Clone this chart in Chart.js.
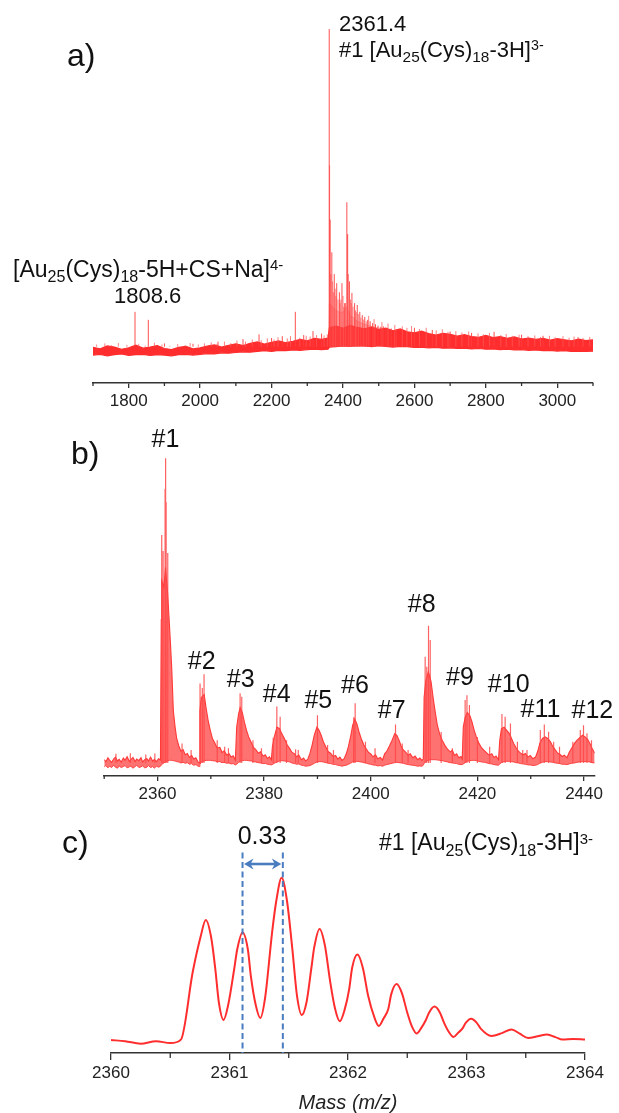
<!DOCTYPE html>
<html><head><meta charset="utf-8">
<script src="https://cdn.jsdelivr.net/npm/chart.js@4.4.1/dist/chart.umd.min.js"></script>
<style>
html,body{margin:0;padding:0;background:#fff;}
#wrap{position:relative;width:619px;height:1113px;overflow:hidden;font-family:"Liberation Sans",Arial,Helvetica,sans-serif;color:#111;background:#fff;}
#wrap canvas{position:absolute;left:0;}
.t{position:absolute;white-space:nowrap;line-height:1;z-index:5;}
.t sub,.t sup{position:relative;line-height:0;vertical-align:baseline;}
.t sub{font-size:70%;top:0.34em;}
.t sup{font-size:65%;top:-0.45em;}
</style></head>
<body><div id="wrap">
<canvas id="ca" width="619" height="420" style="top:0px;width:619px;height:420px"></canvas>
<canvas id="cb" width="619" height="410" style="top:420px;width:619px;height:410px"></canvas>
<canvas id="cc" width="619" height="293" style="top:820px;width:619px;height:293px"></canvas>
</div>
<script>
// ---------- Panel a data ----------
const aTicks = [1800, 2000, 2200, 2400, 2600, 2800, 3000];
const aMinor = [1700, 1900, 2100, 2300, 2500, 2700, 2900, 3100];
const aBandX = [1700,1720,1740,1760,1780,1800,1820,1840,1860,1880,1900,1920,1940,1960,1980,2000,2020,2040,2060,2080,2100,2120,2140,2160,2180,2200,2220,2240,2260,2280,2300,2320,2340,2358,2362,2380,2400,2420,2440,2460,2480,2500,2520,2540,2560,2580,2600,2620,2640,2660,2680,2700,2720,2740,2760,2780,2800,2820,2840,2860,2880,2900,2920,2940,2960,2980,3000,3020,3040,3060,3080,3100];
const aBandHi = [9.8,9.4,10.2,9.9,9.3,9.7,10.4,9.6,9.9,10.3,9.5,9.2,9.8,10.1,9.4,9.7,10.2,10.5,9.9,10.4,10.8,10.3,10.9,11.3,10.7,11.2,11.6,11.1,11.5,12.0,11.6,12.3,12.0,
 12.4,15.2,
 15.7,15.1,15.9,15.3,14.9,15.4,14.7,15.1,14.4,14.9,14.1,13.8,14.3,13.6,13.2,13.7,13.4,12.9,13.3,12.8,12.6,13.1,12.5,12.8,12.3,12.7,12.1,12.4,12.0,12.3,11.8,12.2,11.9,11.6,12.1,11.7,11.9];
const aBandLo = [7.7,7.9,7.5,7.8,8.0,7.6,7.8,7.9,7.6,7.8,7.7,7.5,7.8,7.9,7.7,7.9,8.1,8.0,8.3,8.2,8.4,8.6,8.5,8.7,8.9,8.7,9.0,8.9,9.1,9.0,9.2,9.3,9.2,
 9.3,9.9,
 10.0,10.2,10.1,10.3,10.2,10.0,10.3,10.1,9.9,10.1,10.0,9.8,9.9,9.7,9.8,9.6,9.7,9.5,9.6,9.4,9.5,9.3,9.4,9.2,9.3,9.1,9.2,9.0,9.1,8.9,9.0,8.8,8.9,8.7,8.8,8.7,8.8];
const aHaloX = [2360, 2362, 2370, 2380, 2390, 2400, 2410, 2420, 2430, 2440, 2460, 2480, 2500, 2530, 2560];
const aHaloHi = [12.2, 22, 21, 20, 19.5, 19.5, 21, 18.5, 18, 17, 16.2, 15.6, 15.2, 14.6, 14.0];
const aStickMz = [1817.6,1854.9,1900,1980,2050,2120,2164.9,2200,2230,2266.5,2290,2316,2340,2361.4,2364,2368.7,2375.5,2382.4,2389.9,2397.1,2404.6,2410.8,2413,2418,2425,2432.5,2439.9,2447,2454,2461,2469,2476,2483,2491,2498,2506,2513,2520,2535,2550,2600,2650,2700,2760,2823,2900,2960,3058];
const aStickTop = [19.6,17.4,10.9,10.8,11.4,12.1,13.4,12.4,12.9,19.6,13.2,14.3,13.6,97.5,45,36,30,27.5,25,27.5,22,49.8,41,28,24.8,22,21.5,19.6,18.7,18.2,17.4,17.0,16.5,16.2,15.8,15.5,15.6,15.2,15.0,14.8,15.2,14.6,14.2,13.8,14.1,13.3,13.0,12.6];
const aHairMz = [1710,1733,1752,1771,1795,1828,1846,1872,1893,1915,1937,1958,1972,1995,2012,2031,2047,2068,2086,2103,2127,2146,2171,2188,2207,2218,2244,2253,2279,2297,2308,2326,2347,2356,
 2362.5,2366,2371,2373,2378,2380,2386,2392,2394,2400,2402,2407,2415,2421,2423,2428,2435,2437,2443,2450,2458,2465,
 2472,2487,2509,2526,2545,2566,2579,2592,2614,2633,2661,2678,2694,2716,2733,2752,2778,2793,2810,2842,2857,2874,2893,2918,2937,2953,2978,2994,3016,3033,3047,3072,3091];
const aHairTop = [10.6,10.9,10.4,11.0,10.5,10.8,10.3,11.1,10.6,10.2,10.7,10.4,11.0,10.6,10.9,11.2,10.8,11.4,11.0,11.7,11.4,12.0,11.8,12.3,12.0,12.6,12.3,12.9,12.5,13.0,12.8,13.2,13.1,13.4,
 60,30,28,25,26,24,23,22,23,24,21,22,30,23,22,21,20,19.5,19,18,17.5,17,
 18.5,17.6,16.8,16.4,16.0,15.6,15.2,15.7,14.9,15.2,14.5,14.8,14.1,14.3,13.9,14.2,13.7,13.4,13.8,13.2,13.5,13.0,13.3,12.9,13.1,12.7,13.0,12.6,12.9,12.5,12.8,12.4,12.7];
const aStickBase = 10;

// ---------- Panel b data ----------
const bTicks = [2360, 2380, 2400, 2420, 2440];
const bMinor = [2350, 2370, 2390, 2410, 2430];
const bX = [
 2350.0,2350.3,2350.7,2351.0,2351.4,2351.8,2352.1,2352.5,2352.8,2353.2,2353.6,2353.9,2354.3,2354.7,2355.0,2355.4,2355.8,2356.1,2356.5,2356.9,2357.2,2357.6,2358.0,2358.3,2358.7,2359.1,2359.4,2359.8,2360.2,2360.55,
 2360.7,2360.8,2361.2,2361.5,2361.9,2362.25,2362.45,2362.67,2362.97,2363.3,2363.6,2364.0,2364.4,2364.8,2365.2,2365.6,2366.0,2366.4,2366.8,2367.2,2367.6,2367.85,
 2367.95,2368.2,2368.75,2369.1,2369.5,2369.9,2370.3,2370.8,2371.2,2371.7,2372.1,2372.5,2373.0,2373.4,2373.8,2374.2,2374.6,
 2374.85,2375.2,2375.5,2375.9,2376.3,2376.7,2377.1,2377.6,2378.0,2378.4,2378.9,2379.3,2379.8,2380.2,2380.6,2381.0,2381.35,
 2381.55,2381.9,2382.4,2382.9,2383.3,2383.8,2384.3,2384.8,2385.2,2385.7,2386.1,2386.5,2387.0,2387.4,2387.8,2388.2,
 2388.6,2389.0,2389.4,2389.9,2390.3,2390.7,2391.1,2391.6,2392.0,2392.5,2392.9,2393.4,2393.8,2394.2,2394.6,2395.0,
 2395.4,2395.8,2396.2,2396.6,2397.0,2397.4,2397.8,2398.2,2398.7,2399.2,2399.6,2400.0,2400.4,2400.9,2401.3,2401.8,2402.2,
 2402.6,2403.0,2403.5,2404.0,2404.5,2404.9,2405.3,2405.7,2406.1,2406.5,2407.0,2407.4,2407.9,2408.3,2408.8,2409.2,2409.6,2409.85,
 2410.0,2410.3,2410.8,2411.3,2411.7,2412.1,2412.5,2412.9,2413.4,2413.9,2414.4,2414.9,2415.3,2415.7,2416.1,2416.5,2416.9,2417.15,
 2417.35,2417.7,2418.1,2418.6,2419.0,2419.4,2419.8,2420.3,2420.8,2421.3,2421.8,2422.2,2422.7,2423.1,2423.5,2423.95,
 2424.2,2424.5,2425.0,2425.5,2426.0,2426.4,2426.8,2427.2,2427.7,2428.1,2428.6,2429.0,2429.5,2429.9,2430.4,2430.9,
 2431.3,2431.7,2432.2,2432.7,2433.2,2433.7,2434.1,2434.6,2435.0,2435.5,2435.9,2436.3,
 2436.8,2437.2,2437.7,2438.2,2438.7,2439.2,2439.7,2440.2,2440.7,2441.1,2441.5,2442.0];
const bHi = [
 5.0,4.4,5.6,4.9,4.2,5.3,5.8,4.6,5.1,4.3,5.5,4.8,5.9,4.5,5.0,5.7,4.4,5.2,4.7,5.6,4.3,5.0,5.4,4.6,5.8,4.5,5.1,4.4,5.3,4.9,
 48,60,58,64,56,46,40,33,20,15,11.5,9.2,7.6,8.1,6.5,6.9,5.7,6.3,5.2,5.6,4.3,4.0,
 20,24,25,21,17,14,11.5,10,8.6,8.8,7.2,7.7,6.4,6.9,5.8,6.2,4.9,
 15,19,21,19.5,16.5,14,12,10.2,8.8,8.2,7.0,7.4,6.1,6.5,5.4,5.9,5.0,
 9,12,15,14.5,13,11.5,9.6,8.4,7.3,6.8,5.9,6.4,5.0,5.5,4.6,5.2,
 7.0,9.5,12.5,15,14,12.5,10.5,8.8,7.5,6.9,6.0,6.3,5.2,5.8,4.8,5.3,
 6.8,9,12,15.5,17.5,16,13.5,11.5,9.5,8.2,7.2,6.8,5.9,6.5,5.3,5.7,4.9,
 6.8,7.6,9.2,11,13,12.5,11,9.2,8,7.4,6.4,6.8,5.6,6.1,5.0,5.5,4.8,5.2,
 24,29,32,29,24,19.5,15.5,13,11,9.4,8.2,7.4,7.9,6.3,6.8,5.6,6.0,5.2,
 15,18,19.5,18.5,16.5,14,12,10,8.6,7.8,7.0,6.4,6.8,5.7,6.1,5.0,
 11,14.5,15,14,13,11.5,10,8.8,7.6,7.0,6.5,6.9,5.8,6.3,5.3,5.8,
 7.5,10,11.5,12,11.5,10.5,9.2,8,7.1,6.6,6.0,6.4,
 5.6,7.2,8.6,10,11,11.8,12.5,12,11.2,10,8.5,7];
const bLo = [
 2.8,3.2,2.5,3.0,2.6,3.3,2.7,2.4,3.1,2.6,2.9,3.2,2.5,2.8,3.0,2.4,2.9,3.3,2.6,2.8,3.1,2.5,2.7,3.2,2.6,2.9,2.4,3.0,2.7,3.0,
 3.4,3.6,4.0,4.4,4.6,4.8,4.8,4.8,4.7,4.6,4.4,4.3,4.0,4.2,3.9,4.1,3.6,3.8,3.3,3.5,3.0,2.9,
 3.5,4.2,4.6,4.8,4.8,4.8,4.7,4.6,4.4,4.4,4.1,4.2,3.9,4.0,3.7,3.8,3.4,
 3.6,4.2,4.5,4.7,4.8,4.8,4.7,4.6,4.4,4.3,4.1,4.0,3.8,3.9,3.6,3.5,3.4,
 3.5,3.9,4.3,4.6,4.7,4.6,4.5,4.3,4.0,3.8,3.6,3.7,3.3,3.2,3.0,3.1,
 3.2,3.5,3.9,4.3,4.4,4.4,4.3,4.1,3.9,3.8,3.6,3.5,3.3,3.2,3.0,3.2,
 3.3,3.6,3.9,4.3,4.5,4.5,4.4,4.3,4.1,3.9,3.7,3.6,3.4,3.3,3.1,3.2,3.0,
 3.3,3.5,3.7,3.9,4.1,4.2,4.1,4.0,3.9,3.7,3.5,3.4,3.3,3.2,3.0,3.1,3.0,3.3,
 3.8,4.4,4.8,5.0,5.0,5.0,4.9,4.8,4.7,4.5,4.3,4.1,4.0,3.9,3.8,3.6,3.5,3.5,
 3.7,4.1,4.5,4.7,4.8,4.8,4.7,4.5,4.3,4.2,4.0,3.8,3.7,3.5,3.4,3.3,
 3.7,4.1,4.4,4.5,4.5,4.4,4.3,4.1,4.0,3.8,3.7,3.6,3.4,3.4,3.2,3.3,
 3.5,3.9,4.2,4.4,4.4,4.3,4.2,4.0,3.9,3.8,3.6,3.6,
 3.5,3.7,3.9,4.0,4.2,4.3,4.4,4.4,4.4,4.3,4.1,4.0];
const bStickMz = [2360.79,2361.05,2361.42,2361.52,2361.62,2361.92,2367.98,2368.4,2368.73,2371.2,2372.6,2375.49,2375.8,2379.5,2381.7,2382.38,2383.0,2386.4,2390.0,2393.0,2396.8,2397.07,2400.8,2404.64,2407.0,2410.2,2410.5,2410.83,2411.15,2415.3,2417.7,2418.04,2418.5,2422.3,2424.6,2425.2,2426.2,2428.5,2431.8,2432.55,2433.35,2435.4,2439.3,2439.9,2440.55,
 2352.2,2354.9,2357.8,2359.5,2364.6,2366.3,2373.3,2377.9,2384.2,2385.9,2391.9,2399.0,2405.9,2413.2,2420.0,2427.5,2429.3,2434.3,2437.9,2441.4];
const bStickTop = [73.9,69,88,97.5,84,68.4,28.4,27,31.2,11,9,25.4,24.3,8.5,11.7,21.3,18.2,8,18.6,8,18,22.3,8.5,15.8,8,36.6,33.5,46.1,41.7,8.5,23.3,24.8,21.8,9,19,18.2,16.1,8,14.1,15.8,13.6,9,14.1,15.6,13.1,
 6.8,7.0,6.6,6.9,10,8,8.5,11,11,8.2,9.5,10.5,10,13.5,12,10.5,8,10.5,10.5,11];
const bStickBase = 4;
const bPeakLabels = ['#1','#2','#3','#4','#5','#6','#7','#8','#9','#10','#11','#12'];

// ---------- Panel c data ----------
const cTicks = [2360, 2361, 2362, 2363, 2364];
const cMinor = [2360.5, 2361.5, 2362.5, 2363.5];
const cMz = [2360.00,2360.12,2360.25,2360.38,2360.50,2360.59,2360.69,2360.755,2360.80,2360.845,
 2360.88,2360.91,2360.95,2360.99,2361.04,2361.065,2361.11,2361.155,2361.18,2361.22,
 2361.26,2361.30,2361.36,2361.395,2361.44,2361.485,2361.53,2361.57,2361.61,2361.65,
 2361.69,2361.715,2361.76,2361.805,2361.85,2361.89,2361.93,2361.97,2362.01,2362.035,
 2362.08,2362.125,2362.17,2362.22,2362.26,2362.30,2362.34,2362.365,2362.41,2362.455,
 2362.50,2362.54,2362.58,2362.62,2362.655,2362.685,2362.73,2362.775,2362.81,2362.85,
 2362.89,2362.93,2362.965,2362.995,2363.04,2363.085,2363.12,2363.21,2363.30,2363.38,
 2363.45,2363.52,2363.60,2363.68,2363.75,2363.81,2363.90,2364.00];
const cInt = [6.4,5.8,4.6,5.8,4.9,6.6,40,57,65.5,57,
 41.5,25,16.3,24,41.5,51,59.4,51,38,24,
 17.2,27,59.7,75,86.3,75,51.4,28,18.7,25,
 41.5,52,61.1,53,35,22,15.6,21,31.5,42,
 48.5,42,28.2,18,13.3,17,21.7,29,34,29.5,
 19.9,13,9.6,12.5,16,20,22.9,20,15,10.5,
 7.9,10,12,15,16.9,15,12,8.4,9.8,11.6,
 9.5,7.4,8.2,9.1,7.8,6.6,6.9,6.6];
const cSpacing = [2361.11, 2361.45];   // the two marked isotope peaks (0.33 apart)

// ---------- helpers ----------
const FONT = '"Liberation Sans", Arial, Helvetica, sans-serif';
const RED = 'rgb(255,45,45)';
Chart.defaults.font.family = FONT;

function pts(xs, ys) { return xs.map((x, i) => ({x: x, y: ys[i]})); }
function sticks(mz, top, base) {
  const out = [];
  for (let i = 0; i < mz.length; i++) {
    out.push({x: mz[i], y: base}, {x: mz[i], y: top[i]}, {x: mz[i], y: null});
  }
  return out;
}

const minorTicks = {
  id: 'minorTicks',
  afterDraw(chart, args, o) {
    const s = chart.scales.x, ctx = chart.ctx;
    ctx.save();
    ctx.strokeStyle = o.color; ctx.lineWidth = o.width;
    ctx.beginPath();
    for (const v of o.values) {
      const px = s.getPixelForValue(v);
      ctx.moveTo(px, s.top); ctx.lineTo(px, s.top + o.length);
    }
    ctx.stroke(); ctx.restore();
  }
};

const isoMarkers = {
  id: 'isoMarkers',
  afterDatasetsDraw(chart, args, o) {
    if (!o || !o.values) return;
    const sx = chart.scales.x, sy = chart.scales.y, ctx = chart.ctx;
    const x1 = sx.getPixelForValue(o.values[0]), x2 = sx.getPixelForValue(o.values[1]);
    const yTop = sy.getPixelForValue(o.top), yBot = sx.top;
    ctx.save();
    ctx.strokeStyle = o.color; ctx.fillStyle = o.color;
    ctx.lineWidth = 2; ctx.setLineDash([6, 3.5]);
    [x1, x2].forEach(x => { ctx.beginPath(); ctx.moveTo(x, yTop); ctx.lineTo(x, yBot); ctx.stroke(); });
    ctx.setLineDash([]);
    const ya = sy.getPixelForValue(o.arrowY);
    ctx.lineWidth = 2.6;
    ctx.beginPath(); ctx.moveTo(x1 + 6, ya); ctx.lineTo(x2 - 6, ya); ctx.stroke();
    ctx.beginPath(); ctx.moveTo(x1 + 1.5, ya); ctx.lineTo(x1 + 11, ya - 5.5); ctx.lineTo(x1 + 8, ya); ctx.lineTo(x1 + 11, ya + 5.5); ctx.closePath(); ctx.fill();
    ctx.beginPath(); ctx.moveTo(x2 - 1.5, ya); ctx.lineTo(x2 - 11, ya - 5.5); ctx.lineTo(x2 - 8, ya); ctx.lineTo(x2 - 11, ya + 5.5); ctx.closePath(); ctx.fill();
    ctx.restore();
  }
};

function xAxis(min, max, ticks, tickLen, axisH, extra) {
  const ax = {
    type: 'linear', position: 'bottom', min: min, max: max,
    afterBuildTicks: s => { s.ticks = ticks.map(v => ({value: v})); },
    afterFit: s => { s.height = axisH; },
    grid: {display: true, drawOnChartArea: false, drawTicks: true, tickLength: tickLen, color: '#333', lineWidth: 1.3},
    border: {display: true, color: '#333', width: 1.5},
    ticks: {autoSkip: false, maxRotation: 0, minRotation: 0, padding: 3, color: '#222',
            font: {family: FONT, size: 17}, callback: v => String(v)}
  };
  return Object.assign(ax, extra || {});
}

function baseOptions(pad, xScale, plug) {
  return {
    responsive: false, animation: false, devicePixelRatio: 1, events: [],
    layout: {padding: pad},
    elements: {point: {radius: 0, hoverRadius: 0}, line: {tension: 0}},
    plugins: Object.assign({legend: {display: false}, tooltip: {enabled: false}}, plug),
    scales: {x: xScale, y: {display: false, min: 0, max: 100}}
  };
}

// ---------- Chart a ----------
new Chart(document.getElementById('ca'), {
  type: 'line',
  data: {datasets: [
    {data: pts(aHaloX, aHaloHi), fill: {value: aStickBase}, backgroundColor: 'rgba(255,95,95,0.35)', borderColor: 'rgba(255,95,95,0.4)', borderWidth: 1, order: 4},
    {data: pts(aBandX, aBandLo), fill: false, borderColor: RED, borderWidth: 1.2, order: 3},
    {data: pts(aBandX, aBandHi), fill: '-1', backgroundColor: RED, borderColor: RED, borderWidth: 1.2, order: 2},
    {data: sticks(aHairMz, aHairTop, aStickBase), fill: false, spanGaps: false, borderColor: 'rgba(255,85,85,0.75)', borderWidth: 1, order: 1},
    {data: sticks(aStickMz, aStickTop, aStickBase), fill: false, spanGaps: false, borderColor: 'rgba(255,60,60,0.9)', borderWidth: 1, order: 0}
  ]},
  options: baseOptions({left: 93, right: 26, top: 20, bottom: 7},
    xAxis(1700, 3100, aTicks, 5, 30),
    {minorTicks: {values: aMinor, length: 3, color: '#333', width: 1.3}}),
  plugins: [minorTicks]
});

// ---------- Chart b ----------
new Chart(document.getElementById('cb'), {
  type: 'line',
  data: {datasets: [
    {data: pts(bX, bLo), fill: false, borderColor: 'rgba(255,50,50,0.9)', borderWidth: 1, order: 2},
    {data: pts(bX, bHi), fill: '-1', backgroundColor: 'rgba(255,60,60,0.72)', borderColor: 'rgba(255,50,50,0.95)', borderWidth: 1.1, order: 1},
    {data: sticks(bStickMz, bStickTop, bStickBase), fill: false, spanGaps: false, borderColor: 'rgba(255,70,70,0.85)', borderWidth: 1.2, order: 0}
  ]},
  options: baseOptions({left: 104.2, right: 24.3, top: 30, bottom: 24},
    xAxis(2350, 2442, bTicks, 5, 30),
    {minorTicks: {values: bMinor, length: 3, color: '#333', width: 1.3}}),
  plugins: [minorTicks]
});

// ---------- Chart c ----------
new Chart(document.getElementById('cc'), {
  type: 'line',
  data: {datasets: [
    {data: pts(cMz, cInt), fill: false, borderColor: RED, borderWidth: 2, cubicInterpolationMode: 'monotone'}
  ]},
  options: baseOptions({left: 111, right: 34, top: 30, bottom: 0},
    xAxis(2360, 2364, cTicks, 7, 60, {
      title: {display: true, text: 'Mass (m/z)', color: '#222', padding: {top: 0, bottom: 0},
              font: {family: FONT, size: 20, style: 'italic', lineHeight: 1}}
    }),
    {minorTicks: {values: cMinor, length: 5, color: '#333', width: 1.3},
     isoMarkers: {values: cSpacing, top: 98.8, arrowY: 93.1, color: '#4a7cc0'}}),
  plugins: [minorTicks, isoMarkers]
});

// ---------- text annotations ----------
const wrap = document.getElementById('wrap');
function addText(html, x, baseline, size, align) {
  const d = document.createElement('div');
  d.className = 't';
  d.innerHTML = html;
  d.style.fontSize = size + 'px';
  d.style.top = (baseline - 0.8465 * size).toFixed(1) + 'px';
  d.style.left = x + 'px';
  if (align === 'center') d.style.transform = 'translateX(-50%)';
  wrap.appendChild(d);
}
const formula1 = '[Au<sub>25</sub>(Cys)<sub>18</sub>-3H]<sup>3-</sup>';
const formula2 = '[Au<sub>25</sub>(Cys)<sub>18</sub>-5H+CS+Na]<sup>4-</sup>';

addText('a)', 67, 66, 32);
addText('2361.4', 339, 31.7, 22);
addText('#1 ' + formula1, 339, 57.5, 22);
addText(formula2, 13, 277.3, 23);
addText('1808.6', 114, 303.3, 22);

addText('b)', 71, 464, 32);
const bLabelX = [165.5, 201.7, 240.7, 276.7, 318.3, 355, 391.7, 421.7, 460, 508.7, 540.5, 592.4];
const bLabelBase = [447, 668.7, 686.7, 701.7, 708.3, 693.3, 718.3, 611.7, 685, 691.7, 716.7, 718.5];
bPeakLabels.forEach((t, i) => addText(t, bLabelX[i], bLabelBase[i], 25, 'center'));

addText('c)', 62, 853, 32);
addText('0.33', 262, 844, 25, 'center');
addText('#1 ' + formula1, 379, 850.8, 23);
</script></body></html>
